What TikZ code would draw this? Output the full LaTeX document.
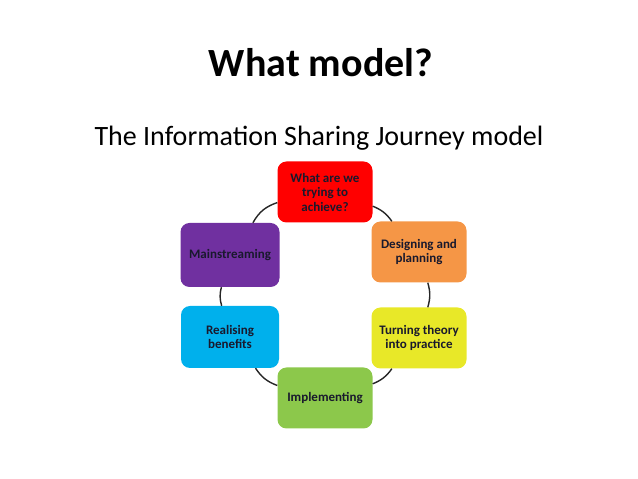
\documentclass[tikz,border=0pt]{standalone}
\usepackage{fontspec}
\setmainfont{Carlito}
\usepackage{tikz}
\usetikzlibrary{shapes.geometric}
\definecolor{stagered}{RGB}{255,0,0}
\definecolor{stageorange}{RGB}{245,150,70}
\definecolor{stageyellow}{RGB}{232,232,40}
\definecolor{stagegreen}{RGB}{140,200,75}
\definecolor{stageblue}{RGB}{0,176,236}
\definecolor{stagepurple}{RGB}{112,48,160}
\definecolor{stagetext}{RGB}{25,25,45}
\tikzstyle{stage} = [
    rectangle,
    rounded corners=9pt,
    minimum width=95pt,
    minimum height=61pt,
    align=center,
    text=stagetext,
    font=\fontsize{13}{14.5}\selectfont\bfseries
]
\tikzstyle{link} = [line width=1.4pt, draw=black!85]

\begin{document}
\begin{tikzpicture}[x=1pt, y=1pt]
\useasboundingbox (0,0) rectangle (638,479);

\node (title) at (321,416) [font=\fontsize{40}{44}\selectfont\bfseries] {What model?};
\node (subtitle) at (319,341) [font=\fontsize{28}{32}\selectfont] {The Information Sharing Journey model};

\node (achieve) [stage, fill=stagered] at (325,287) {What are we\\trying to\\achieve?};
\node (design) [stage, fill=stageorange] at (419,227) {Designing and\\planning};
\node (turning) [stage, fill=stageyellow] at (419,141) {Turning theory\\into practice};
\node (implement) [stage, fill=stagegreen] at (325,81) {Implementing};
\node (realise) [stage, fill=stageblue, minimum width=98pt, minimum height=62pt] at (230,142) {Realising\\benefits};
\node (mainstream) [stage, fill=stagepurple, minimum width=99pt, minimum height=64pt] at (230,224) {Mainstreaming};

\draw [link] (achieve) to[bend left=16] (design);
\draw [link] (design) to[bend left=16] (turning);
\draw [link] (turning) to[bend left=16] (implement);
\draw [link] (implement) to[bend left=18] (realise);
\draw [link] (realise) to[bend left=15] (mainstream);
\draw [link] (mainstream) to[bend left=21] (achieve);

\end{tikzpicture}
\end{document}
